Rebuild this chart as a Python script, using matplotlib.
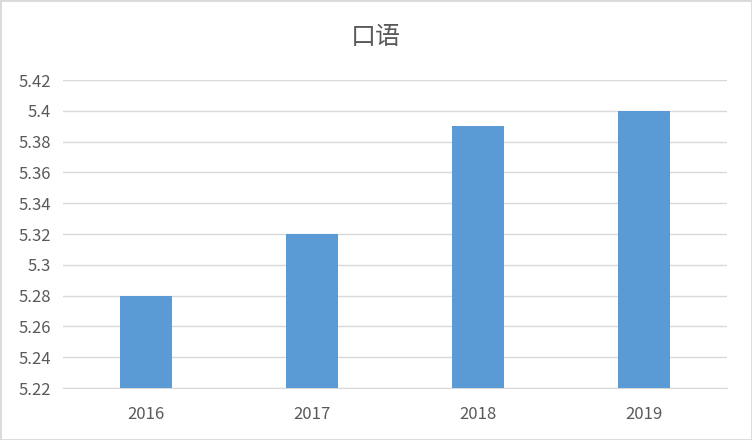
import matplotlib.pyplot as plt
from matplotlib.ticker import FuncFormatter, MultipleLocator
from matplotlib.patches import Rectangle

plt.rcParams['font.family'] = ['Noto Sans CJK SC', 'DejaVu Sans']

years = ['2016', '2017', '2018', '2019']
scores = [5.28, 5.32, 5.39, 5.40]
title = '口语'

fig = plt.figure(figsize=(7.52, 4.40), dpi=100)
ax = fig.add_axes([0.084, 0.118, 0.883, 0.700])

x = range(len(years))
ax.bar(x, scores, width=0.31, color='#5B9BD5', zorder=3)

ax.set_xlim(-0.5, len(years) - 0.5)
ax.set_ylim(5.22, 5.42)
ax.yaxis.set_major_locator(MultipleLocator(0.02))
ax.yaxis.set_major_formatter(FuncFormatter(lambda v, p: '{:g}'.format(round(v, 2))))
ax.set_xticks(list(x))
ax.set_xticklabels(years)

ax.grid(axis='y', color='#D9D9D9', linewidth=1, zorder=0)
for s in ['top', 'right', 'left']:
    ax.spines[s].set_visible(False)
ax.spines['bottom'].set_color('#D9D9D9')
ax.tick_params(axis='both', length=0, labelsize=12, colors='#595959')
ax.tick_params(axis='y', pad=9)
ax.tick_params(axis='x', pad=13)

fig.text(0.5, 0.915, title, ha='center', va='center', fontsize=18, color='#595959')

fig.patches.append(Rectangle((0, 0), 1, 1, transform=fig.transFigure,
                             fill=False, edgecolor='#D9D9D9', linewidth=2))

fig.savefig('out.png', dpi=100)
